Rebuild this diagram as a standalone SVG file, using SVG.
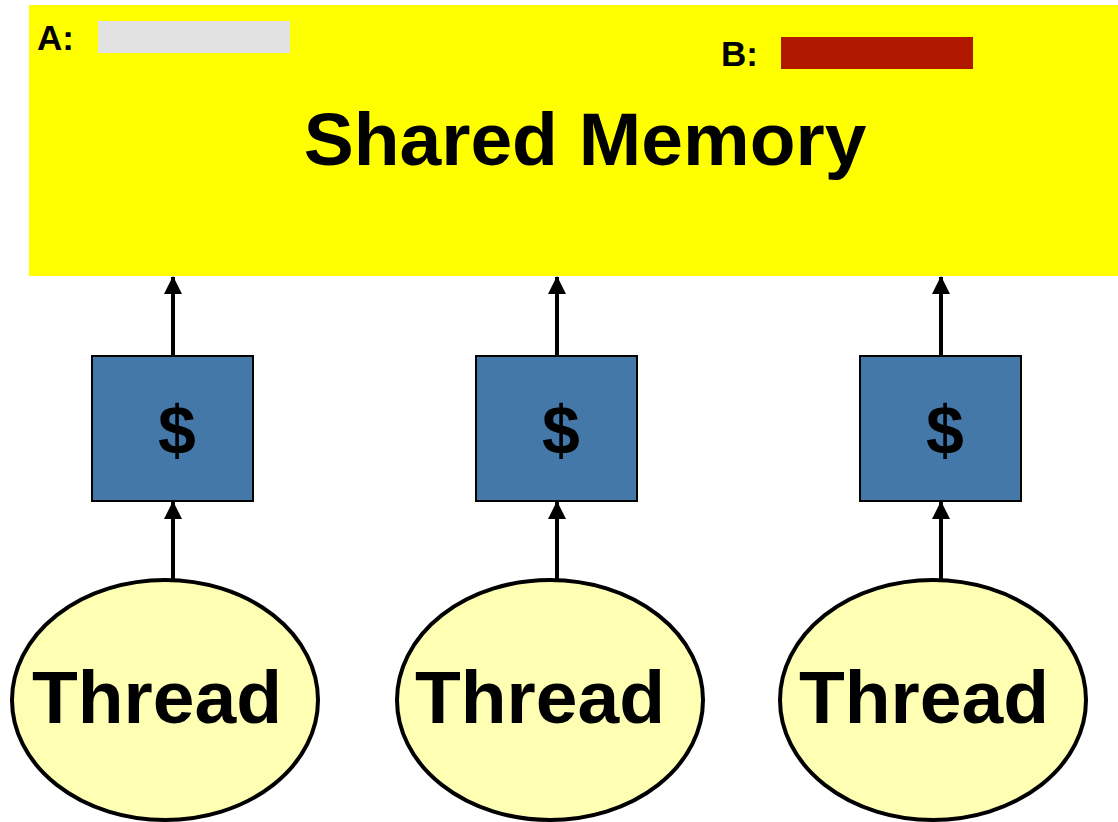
<svg xmlns="http://www.w3.org/2000/svg" width="1118" height="822" viewBox="0 0 1118 822">
<style>
text{font-family:"Liberation Sans",Arial,sans-serif;font-weight:bold;fill:#000}
.cache{fill:#4378a9;stroke:#000;stroke-width:2}
.thread{fill:#ffffb3;stroke:#000;stroke-width:4}
.conn{stroke:#000;stroke-width:4;fill:none;marker-end:url(#ah)}
</style>
<defs>
<marker id="ah" viewBox="0 0 18 18" refX="17" refY="9" markerWidth="18" markerHeight="18" markerUnits="userSpaceOnUse" orient="auto">
<path d="M0,0 L18,9 L0,18 Z" fill="#000"/>
</marker>
</defs>
<rect width="1118" height="822" fill="#fff"/>
<g id="shared-memory">
<rect x="29" y="5" width="1089" height="271" fill="#ffff00"/>
<text x="37" y="50" font-size="35">A:</text>
<rect x="98" y="21" width="192" height="32" fill="#e1e1e1"/>
<text x="721" y="66" font-size="35">B:</text>
<rect x="781" y="37" width="192" height="32" fill="#b01800"/>
<text x="585" y="165" font-size="75" text-anchor="middle">Shared Memory</text>
</g>
<g id="connectors">
<line class="conn" x1="173" y1="356" x2="173" y2="277"/>
<line class="conn" x1="557" y1="356" x2="557" y2="277"/>
<line class="conn" x1="941" y1="356" x2="941" y2="277"/>
<line class="conn" x1="173" y1="580" x2="173" y2="502"/>
<line class="conn" x1="557" y1="580" x2="557" y2="502"/>
<line class="conn" x1="941" y1="580" x2="941" y2="502"/>
</g>
<g id="cache1"><rect class="cache" x="92" y="356" width="161" height="145"/><text x="177" y="454" font-size="68" text-anchor="middle">$</text></g>
<g id="cache2"><rect class="cache" x="476" y="356" width="161" height="145"/><text x="561" y="454" font-size="68" text-anchor="middle">$</text></g>
<g id="cache3"><rect class="cache" x="860" y="356" width="161" height="145"/><text x="945" y="454" font-size="68" text-anchor="middle">$</text></g>
<g id="thread1"><ellipse class="thread" cx="165" cy="700" rx="153" ry="120"/><text x="157" y="723" font-size="75" text-anchor="middle">Thread</text></g>
<g id="thread2"><ellipse class="thread" cx="550" cy="700" rx="153" ry="120"/><text x="540" y="723" font-size="75" text-anchor="middle">Thread</text></g>
<g id="thread3"><ellipse class="thread" cx="933" cy="700" rx="153" ry="120"/><text x="924" y="723" font-size="75" text-anchor="middle">Thread</text></g>
</svg>
